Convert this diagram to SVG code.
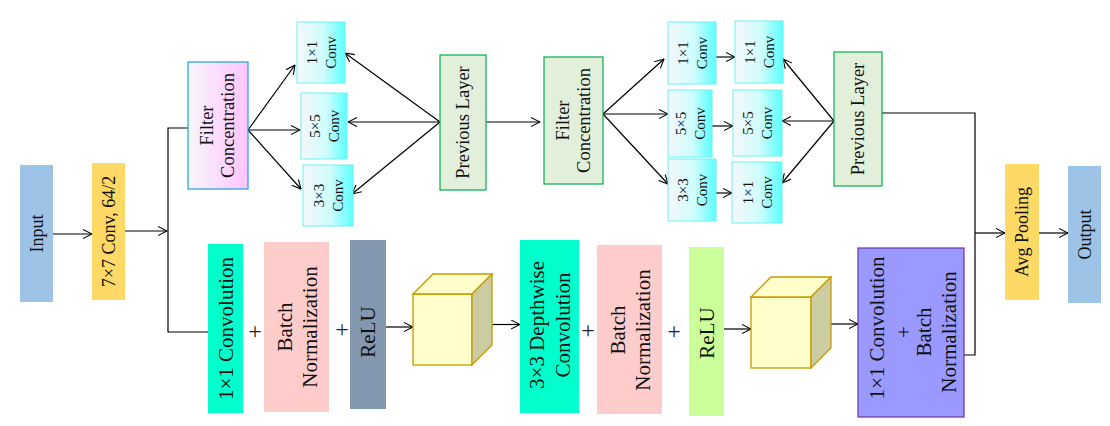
<svg xmlns="http://www.w3.org/2000/svg" width="1110" height="426" viewBox="0 0 1110 426">
<style>
text{font-family:"Liberation Serif","Times New Roman",serif;fill:#111;text-anchor:middle;dominant-baseline:central}
.t17{font-size:18px}
.t18{font-size:18.5px}
.t20{font-size:21px}
.t14{font-size:15px}
.plus{font-size:24px;fill:#222}
.sc{fill:url(#gc);stroke:#6CF2F2;stroke-width:1}
.grn{fill:#E2EFDA;stroke:#00B050;stroke-width:1.2}
.cf{fill:#FFFFCC;stroke:#C59A00;stroke-width:1.3}
.cs{fill:#CCCCA3;stroke:#C59A00;stroke-width:1.3}
.ln{fill:none;stroke:#000;stroke-width:1.2}
.ar{fill:none;stroke:#000;stroke-width:1.2;marker-end:url(#a)}
</style>
<defs>
<linearGradient id="gc" x1="0" y1="0" x2="1" y2="0">
<stop offset="0" stop-color="#F4F8FB"/>
<stop offset="0.55" stop-color="#CFFCFC"/>
<stop offset="1" stop-color="#5CFFFF"/>
</linearGradient>
<linearGradient id="gp" x1="0" y1="0" x2="1" y2="0">
<stop offset="0" stop-color="#F8F6FC"/>
<stop offset="1" stop-color="#FFC4FF"/>
</linearGradient>
<marker id="a" viewBox="0 0 10 10" refX="9.5" refY="5" markerWidth="10" markerHeight="10" markerUnits="userSpaceOnUse" orient="auto">
<path d="M0.5,0.5 L9.5,5 L0.5,9.5" fill="none" stroke="#000" stroke-width="1.1"/>
</marker>
</defs>

<g id="connectors">
<line class="ar" x1="53" y1="234" x2="92" y2="234"/>
<line class="ar" x1="125" y1="231" x2="167" y2="231"/>
<polyline class="ln" points="188,128 168,128 168,332 208,332"/>
<line class="ar" x1="248" y1="130" x2="295" y2="65"/>
<line class="ar" x1="248" y1="130" x2="300" y2="130"/>
<line class="ar" x1="248" y1="130" x2="301" y2="189"/>
<line class="ar" x1="440" y1="122" x2="345" y2="53"/>
<line class="ar" x1="440" y1="122" x2="348" y2="122"/>
<line class="ar" x1="440" y1="122" x2="352" y2="194"/>
<line class="ar" x1="486" y1="122" x2="540" y2="122"/>
<line class="ar" x1="603" y1="114" x2="664" y2="59"/>
<line class="ar" x1="603" y1="114" x2="668" y2="114"/>
<line class="ar" x1="603" y1="114" x2="668" y2="184"/>
<line class="ar" x1="716" y1="57" x2="735" y2="57"/>
<line class="ar" x1="712" y1="126" x2="733" y2="126"/>
<line class="ar" x1="710" y1="193" x2="732" y2="193"/>
<line class="ar" x1="834" y1="121" x2="783" y2="59"/>
<line class="ar" x1="834" y1="121" x2="782" y2="121"/>
<line class="ar" x1="834" y1="121" x2="782" y2="183"/>
<polyline class="ln" points="882,113 975,113 975,355 964,355"/>
<line class="ar" x1="975" y1="233" x2="1005" y2="233"/>
<line class="ar" x1="1039" y1="233" x2="1068" y2="233"/>
<line class="ar" x1="386" y1="327" x2="413" y2="327"/>
<line class="ar" x1="492" y1="324.5" x2="520" y2="324.5"/>
<line class="ar" x1="724" y1="329" x2="751" y2="329"/>
<line class="ar" x1="831" y1="324" x2="858" y2="324"/>
</g>

<g id="input">
<rect x="20" y="165" width="33" height="137" fill="#9DC3E6"/>
<text class="t17" transform="translate(36.5,233.5) rotate(-90)">Input</text>
</g>
<g id="conv7x7">
<rect x="92" y="163" width="33" height="137" fill="#FFD966"/>
<text class="t17" transform="translate(108.5,231.5) rotate(-90)">7×7 Conv, 64/2</text>
</g>

<g id="filter-concentration-1">
<rect x="188" y="62" width="60" height="127" fill="url(#gp)" stroke="#1BA1E2" stroke-width="1.2"/>
<text class="t18" transform="translate(218,125.5) rotate(-90)"><tspan x="0" y="-11">Filter</tspan><tspan x="0" y="10">Concentration</tspan></text>
</g>
<g id="conv-a1">
<rect class="sc" x="297" y="22" width="48" height="61"/>
<text class="t14" transform="translate(321,52.5) rotate(-90)"><tspan x="0" y="-9.5">1×1</tspan><tspan x="0" y="9.5">Conv</tspan></text>
</g>
<g id="conv-a2">
<rect class="sc" x="301" y="93" width="46" height="66"/>
<text class="t14" transform="translate(324,126) rotate(-90)"><tspan x="0" y="-9.5">5×5</tspan><tspan x="0" y="9.5">Conv</tspan></text>
</g>
<g id="conv-a3">
<rect class="sc" x="303" y="165" width="50" height="61"/>
<text class="t14" transform="translate(328,195.5) rotate(-90)"><tspan x="0" y="-9.5">3×3</tspan><tspan x="0" y="9.5">Conv</tspan></text>
</g>
<g id="previous-layer-1">
<rect class="grn" x="440" y="55" width="46" height="135"/>
<text class="t18" transform="translate(463,122.5) rotate(-90)">Previous Layer</text>
</g>

<g id="filter-concentration-2">
<rect class="grn" x="544" y="57" width="59" height="127"/>
<text class="t18" transform="translate(573.5,120.5) rotate(-90)"><tspan x="0" y="-11">Filter</tspan><tspan x="0" y="10">Concentration</tspan></text>
</g>
<g id="conv-b1">
<rect class="sc" x="668" y="22" width="48" height="62"/>
<text class="t14" transform="translate(692,53) rotate(-90)"><tspan x="0" y="-9.5">1×1</tspan><tspan x="0" y="9.5">Conv</tspan></text>
</g>
<g id="conv-b2">
<rect class="sc" x="668" y="90" width="44" height="67"/>
<text class="t14" transform="translate(690,123.5) rotate(-90)"><tspan x="0" y="-9.5">5×5</tspan><tspan x="0" y="9.5">Conv</tspan></text>
</g>
<g id="conv-b3">
<rect class="sc" x="668" y="159" width="48" height="62"/>
<text class="t14" transform="translate(692,190) rotate(-90)"><tspan x="0" y="-9.5">3×3</tspan><tspan x="0" y="9.5">Conv</tspan></text>
</g>
<g id="conv-c1">
<rect class="sc" x="735" y="21" width="48" height="62"/>
<text class="t14" transform="translate(759,52) rotate(-90)"><tspan x="0" y="-9.5">1×1</tspan><tspan x="0" y="9.5">Conv</tspan></text>
</g>
<g id="conv-c2">
<rect class="sc" x="733" y="90" width="49" height="66"/>
<text class="t14" transform="translate(757.5,123) rotate(-90)"><tspan x="0" y="-9.5">5×5</tspan><tspan x="0" y="9.5">Conv</tspan></text>
</g>
<g id="conv-c3">
<rect class="sc" x="732" y="162" width="50" height="61"/>
<text class="t14" transform="translate(757,192.5) rotate(-90)"><tspan x="0" y="-9.5">1×1</tspan><tspan x="0" y="9.5">Conv</tspan></text>
</g>
<g id="previous-layer-2">
<rect class="grn" x="834" y="52" width="48" height="134"/>
<text class="t18" transform="translate(858,119) rotate(-90)">Previous Layer</text>
</g>

<g id="conv1x1">
<rect x="208" y="244" width="35" height="169" fill="#00FFCC"/>
<text class="t20" transform="translate(226,328.5) rotate(-90)">1×1 Convolution</text>
</g>
<text class="plus" x="255" y="331">+</text>
<g id="batchnorm-1">
<rect x="264" y="242" width="65" height="170" fill="#FFCCCC"/>
<text class="t20" transform="translate(297,327) rotate(-90)"><tspan x="0" y="-12.5">Batch</tspan><tspan x="0" y="12.5">Normalization</tspan></text>
</g>
<text class="plus" x="342" y="329">+</text>
<g id="relu-1">
<rect x="350" y="240" width="36" height="169" fill="#8497B0"/>
<text class="t20" transform="translate(368,332) rotate(-90)">ReLU</text>
</g>
<g id="cube-1">
<rect class="cf" x="413" y="294" width="59" height="71"/>
<polygon class="cf" points="413,294 433,274 492,274 472,294"/>
<polygon class="cs" points="472,294 492,274 492,345 472,365"/>
</g>
<g id="depthwise">
<rect x="520" y="240" width="59" height="173" fill="#00FFCC"/>
<text class="t20" transform="translate(550,325) rotate(-90)"><tspan x="0" y="-13">3×3 Depthwise</tspan><tspan x="0" y="13">Convolution</tspan></text>
</g>
<text class="plus" x="588" y="330">+</text>
<g id="batchnorm-2">
<rect x="597" y="245" width="65" height="169" fill="#FFCCCC"/>
<text class="t20" transform="translate(630,330) rotate(-90)"><tspan x="0" y="-12.5">Batch</tspan><tspan x="0" y="12.5">Normalization</tspan></text>
</g>
<text class="plus" x="674" y="331">+</text>
<g id="relu-2">
<rect x="689" y="247" width="35" height="169" fill="#CCFF99"/>
<text class="t20" transform="translate(707,333) rotate(-90)">ReLU</text>
</g>
<g id="cube-2">
<rect class="cf" x="751" y="297" width="60" height="71"/>
<polygon class="cf" points="751,297 771,277 831,277 811,297"/>
<polygon class="cs" points="811,297 831,277 831,348 811,368"/>
</g>
<g id="conv-bn-final">
<rect x="858" y="248" width="106" height="169" fill="#9999FF" stroke="#7030A0" stroke-width="1.2"/>
<text class="t20" transform="translate(911,332) rotate(-90)"><tspan x="4" y="-34">1×1 Convolution</tspan><tspan x="0" y="-7">+</tspan><tspan x="0" y="13">Batch</tspan><tspan x="0" y="38">Normalization</tspan></text>
</g>
<g id="avg-pooling">
<rect x="1005" y="164" width="34" height="136" fill="#FFD966"/>
<text class="t17" transform="translate(1022,232) rotate(-90)">Avg Pooling</text>
</g>
<g id="output">
<rect x="1068" y="166" width="33" height="137" fill="#9DC3E6"/>
<text class="t17" transform="translate(1084.5,234.5) rotate(-90)">Output</text>
</g>
</svg>
